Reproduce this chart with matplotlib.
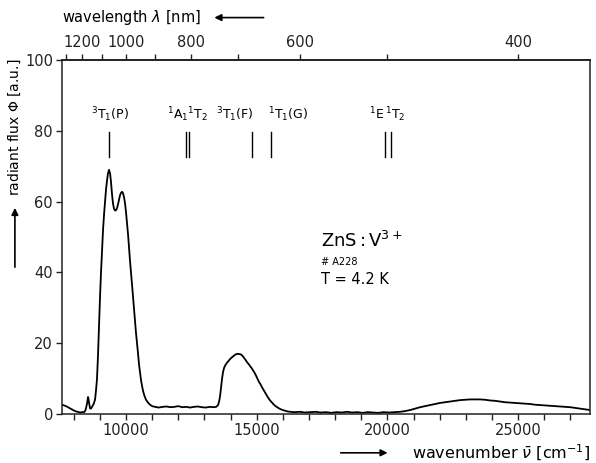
import matplotlib
matplotlib.use("Agg")
import matplotlib.pyplot as plt
import numpy as np

plt.rcParams['font.family'] = ['DejaVu Sans']

# Spectrum: wavenumber (cm^-1) and radiant flux (a.u.)
wavenumber = [7551, 7630, 7704, 7780, 7857, 7950, 8048, 8140, 8240, 8320, 8393, 8440, 8469, 8510,
              8546, 8565, 8584, 8622, 8660, 8699, 8760, 8814, 8850, 8890, 8930, 8967, 9005, 9043,
              9080, 9120, 9160, 9196, 9235, 9273, 9310, 9349, 9390, 9426, 9465, 9502, 9540, 9579,
              9620, 9656, 9695, 9732, 9770, 9809, 9850, 9885, 9925, 9962, 10000, 10038, 10080,
              10115, 10150, 10191, 10230, 10268, 10305, 10344, 10380, 10421, 10460, 10497, 10535,
              10574, 10610, 10651, 10700, 10765, 10840, 10918, 11000, 11110, 11250, 11400, 11550,
              11700, 11850, 12000, 12150, 12300, 12450, 12600, 12750, 12900, 13050, 13200, 13350,
              13450, 13521, 13560, 13597, 13635, 13674, 13710, 13750, 13800, 13865, 13920, 13980,
              14050, 14133, 14210, 14286, 14340, 14401, 14460, 14516, 14570, 14631, 14690, 14745,
              14800, 14860, 14920, 14975, 15030, 15090, 15150, 15205, 15260, 15320, 15380, 15434,
              15490, 15549, 15620, 15702, 15800, 15894, 15990, 16085, 16180, 16276, 16450, 16650,
              16850, 17050, 17250, 17450, 17650, 17850, 18050, 18250, 18450, 18650, 18850, 19050,
              19250, 19450, 19650, 19850, 20050, 20250, 20486, 20677, 20870, 21060, 21250, 21443,
              21630, 21825, 22010, 22208, 22400, 22591, 22780, 22974, 23160, 23356, 23550, 23739,
              23930, 24122, 24310, 24505, 24700, 24887, 25080, 25270, 25460, 25653, 25840, 26035,
              26230, 26418, 26610, 26801, 26990, 27183, 27380, 27566, 27750]
flux = [2.6, 2.4, 2.2, 1.9, 1.6, 1.2, 0.8, 0.6, 0.4, 0.5, 0.5, 0.9, 1.6, 3.0,
        4.8, 4.2, 3.2, 1.6, 1.5, 2.0, 2.8, 4.0, 6.5, 10.0, 17.0, 25.0, 33.0, 40.0,
        46.0, 52.0, 56.5, 60.0, 63.5, 66.0, 68.0, 69.0, 68.0, 65.5, 62.0, 59.5, 58.0, 57.5,
        57.6, 58.2, 59.3, 60.6, 61.8, 62.5, 62.8, 62.4, 61.2, 59.5, 57.0, 54.0, 50.5,
        47.0, 43.5, 40.0, 36.5, 33.0, 29.5, 26.0, 23.0, 20.0, 17.0, 14.0, 11.7,
        9.5, 8.0, 6.5, 5.2, 4.0, 3.2, 2.6, 2.2, 2.0, 1.8, 2.0, 2.1,
        1.9, 2.0, 2.2, 1.9, 2.0, 1.8, 2.0, 2.1, 1.9, 1.8, 2.0, 1.9,
        2.0, 2.5, 3.5, 5.0, 7.5, 10.0, 11.8, 13.0, 13.8, 14.5, 15.0, 15.5,
        16.0, 16.5, 16.9, 17.0, 16.9, 16.8, 16.4, 15.8, 15.3, 14.6, 14.1, 13.5,
        13.0, 12.3, 11.6, 10.8, 9.9, 9.0, 8.3, 7.5, 6.8, 6.0, 5.3, 4.6,
        4.0, 3.5, 2.9, 2.3, 1.8, 1.4, 1.1, 0.9, 0.7, 0.6, 0.5, 0.6,
        0.4, 0.5, 0.6, 0.4, 0.5, 0.3, 0.5, 0.4, 0.6, 0.4, 0.5, 0.3,
        0.5, 0.4, 0.3, 0.5, 0.4, 0.5, 0.6, 0.8, 1.1, 1.5, 1.9, 2.2,
        2.5, 2.8, 3.1, 3.3, 3.5, 3.7, 3.9, 4.0, 4.1, 4.1, 4.1, 4.0,
        3.8, 3.7, 3.5, 3.3, 3.2, 3.1, 3.0, 2.9, 2.8, 2.6, 2.5, 2.4,
        2.3, 2.2, 2.1, 2.0, 1.9, 1.7, 1.5, 1.3, 1.1]

# Transition markers (cm^-1)
marker_positions = [9361, 12296, 12422, 14810, 15538, 19912, 20142]
transition_labels = [r"$^3$T$_1$(P)", r"$^1$A$_1$$^1$T$_2$", r"$^3$T$_1$(F)",
                     r"$^1$T$_1$(G)", r"$^1$E$\,^1$T$_2$"]
label_positions = [9380, 12350, 14150, 16180, 20000]

y_ticks = [0, 20, 40, 60, 80, 100]
x_major_ticks = [10000, 15000, 20000, 25000]
x_minor_ticks = [8000, 9000, 11000, 12000, 13000, 14000, 16000, 17000, 18000, 19000,
                 21000, 22000, 23000, 24000, 26000, 27000]
wl_ticks = [1300, 1200, 1100, 1000, 900, 800, 700, 600, 500, 400]
wl_labels = ["", "1200", "", "1000", "", "800", "", "600", "", "400"]

fig = plt.figure(figsize=(5.96, 4.63), dpi=100)
ax = fig.add_axes([0.104, 0.106, 0.886, 0.764])

ax.plot(wavenumber, flux, color="black", lw=1.3)
ax.set_xlim(7550, 27750)
ax.set_ylim(0, 100)

ax.set_yticks(y_ticks)
ax.set_xticks(x_major_ticks)
ax.set_xticks(x_minor_ticks, minor=True)
ax.tick_params(axis="both", which="both", direction="out", length=4, width=1,
               labelsize=10.5, colors="#222222", pad=2.5)
ax.tick_params(axis="x", which="minor", length=4)
for s in ax.spines.values():
    s.set_linewidth(1.1)
    s.set_color("#222222")

# top wavelength axis
secax = ax.secondary_xaxis("top", functions=(lambda w: 1e7 / np.maximum(w, 1),
                                             lambda l: 1e7 / np.maximum(l, 1)))
secax.set_xticks(wl_ticks)
secax.set_xticklabels(wl_labels)
secax.tick_params(direction="out", length=4, width=1, labelsize=10.5, colors="#222222")
secax.spines["top"].set_linewidth(1.1)

# transition markers
for p in marker_positions:
    ax.plot([p, p], [72.6, 79.7], color="black", lw=1.0)
for lab, p in zip(transition_labels, label_positions):
    ax.text(p, 84.5, lab, ha="center", va="center", fontsize=9)

# sample annotation
ax.text(17450, 48.9, r"ZnS$\,$:$\,$V$^{3+}$", fontsize=13, ha="left", va="center")
ax.text(17450, 43.0, "# A228", fontsize=7, ha="left", va="center")
ax.text(17450, 37.9, "T = 4.2 K", fontsize=10.5, ha="left", va="center")

# axis titles with arrows
fig.text(0.104, 0.962, r"wavelength $\lambda$ [nm]", fontsize=10.5, ha="left", va="center")
fig.patches.append(matplotlib.patches.FancyArrowPatch(
    (0.447, 0.962), (0.355, 0.962), transform=fig.transFigure, arrowstyle="-|>",
    mutation_scale=10, lw=1.2, color="black"))

fig.text(0.99, 0.022, r"wavenumber $\bar{\nu}$ [cm$^{-1}$]", fontsize=11.5,
         ha="right", va="center")
fig.patches.append(matplotlib.patches.FancyArrowPatch(
    (0.567, 0.022), (0.655, 0.022), transform=fig.transFigure, arrowstyle="-|>",
    mutation_scale=10, lw=1.2, color="black"))

fig.text(0.025, 0.724, r"radiant flux $\Phi$ [a.u.]", fontsize=10, rotation=90,
         ha="center", va="center")
fig.patches.append(matplotlib.patches.FancyArrowPatch(
    (0.025, 0.417), (0.025, 0.557), transform=fig.transFigure, arrowstyle="-|>",
    mutation_scale=10, lw=1.2, color="black"))

fig.savefig("out.png", dpi=100)
